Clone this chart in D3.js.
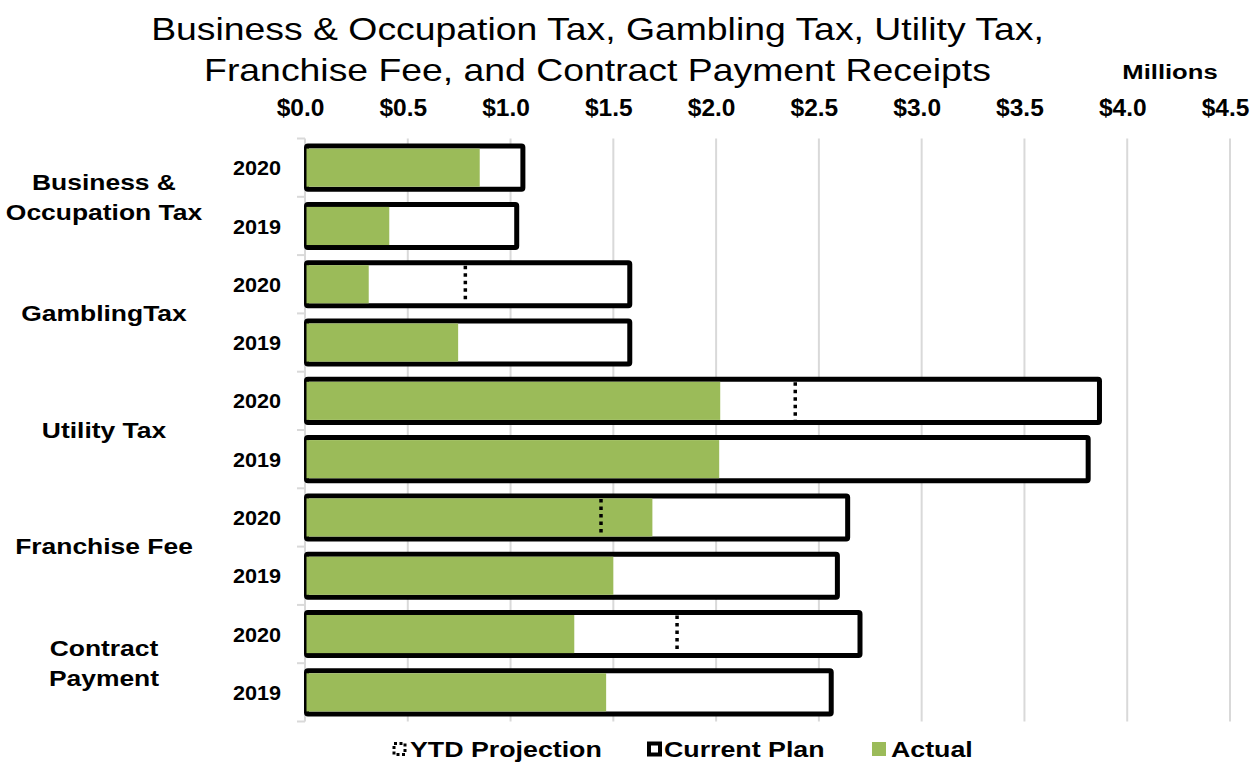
<!DOCTYPE html>
<html>
<head>
<meta charset="utf-8">
<script src="https://cdn.jsdelivr.net/npm/d3@7"></script>
<style>
  body { margin: 0; background: #fff; }
  text { font-family: "Liberation Sans", Arial, sans-serif; fill: #000; }
</style>
</head>
<body>
<div id="chart"></div>
<script>
// categories, top to bottom, each with a 2020 and 2019 row
const categories = [["Business &", "Occupation Tax"], ["GamblingTax"], ["Utility Tax"], ["Franchise Fee"], ["Contract", "Payment"]];
const years = ["2020", "2019"];
// values in millions, per category [2020, 2019]
const plan = [[1.06, 1.03], [1.58, 1.58], [3.865, 3.81], [2.64, 2.59], [2.70, 2.56]];
const actual = [[0.85, 0.41], [0.31, 0.745], [2.02, 2.015], [1.69, 1.50], [1.31, 1.465]];
const ytd = [[null, null], [0.78, null], [2.385, null], [1.44, null], [1.81, null]];
const ticks = [0, 0.5, 1, 1.5, 2, 2.5, 3, 3.5, 4, 4.5];

// flatten into rows
let rows = [];
categories.forEach((c, i) => {
  years.forEach((y, j) => {
    rows.push({id: i + "-" + y, cat: i, year: y, plan: plan[i][j], actual: actual[i][j], ytd: ytd[i][j]});
  });
});

const W = 1257, H = 763;
const svg = d3.select("#chart").append("svg").attr("width", W).attr("height", H);

// text in the original is wider than Liberation Sans, so stretch it horizontally around its x
function stretch(sel, sx) {
  sel.each(function() {
    const x0 = +d3.select(this).attr("x");
    d3.select(this).attr("transform", `translate(${x0},0) scale(${sx},1) translate(${-x0},0)`);
  });
  return sel;
}

const x = d3.scaleLinear().domain([0, 4.5]).range([305, 1230]);
const y = d3.scaleBand().domain(rows.map(d => d.id)).range([138.5, 721.5]).paddingInner(0.26).paddingOuter(0.13);

// title
stretch(svg.append("text").attr("x", 597.5).attr("y", 40).attr("text-anchor", "middle")
  .style("font-size", "30.5px").text("Business & Occupation Tax, Gambling Tax, Utility Tax,"), 1.225);
stretch(svg.append("text").attr("x", 597.5).attr("y", 81).attr("text-anchor", "middle")
  .style("font-size", "30.5px").text("Franchise Fee, and Contract Payment Receipts"), 1.225);
stretch(svg.append("text").attr("x", 1170).attr("y", 79).attr("text-anchor", "middle")
  .style("font-size", "21px").style("font-weight", "bold").text("Millions"), 1.22);

// gridlines
svg.append("g").selectAll("line").data(ticks.slice(1)).join("line")
  .attr("x1", d => x(d)).attr("x2", d => x(d))
  .attr("y1", 138.5).attr("y2", 721.5)
  .attr("stroke", "#d9d9d9").attr("stroke-width", 2);

// top axis labels
const xAxis = svg.append("g").attr("transform", "translate(0,107.5)")
  .call(d3.axisTop(x).tickValues(ticks).tickFormat(d => "$" + d3.format(".1f")(d)).tickSize(0).tickPadding(0));
xAxis.select(".domain").remove();
xAxis.selectAll("text").attr("x", -5).attr("y", 0).attr("dy", "0.36em")
  .style("font-size", "24.5px").style("font-weight", "bold")
  .style("font-family", "'Liberation Sans', Arial, sans-serif");

// left axis line + ticks at row boundaries
svg.append("line").attr("x1", 305).attr("x2", 305).attr("y1", 138.5).attr("y2", 721.5)
  .attr("stroke", "#d9d9d9").attr("stroke-width", 2);
svg.append("g").selectAll("line").data(d3.range(rows.length + 1)).join("line")
  .attr("x1", 297).attr("x2", 305)
  .attr("y1", d => 138.5 + d * (583 / rows.length)).attr("y2", d => 138.5 + d * (583 / rows.length))
  .attr("stroke", "#d9d9d9").attr("stroke-width", 2);

// plan bars (outline)
const bh = y.bandwidth();
svg.append("g").selectAll("rect").data(rows).join("rect")
  .attr("x", x(0) + 1.5).attr("y", d => y(d.id))
  .attr("width", d => x(d.plan) - x(0) - 1.5).attr("height", bh)
  .attr("fill", "#fff").attr("stroke", "#000").attr("stroke-width", 5)
  .attr("rx", 1.5);

// actual bars
svg.append("g").selectAll("rect").data(rows).join("rect")
  .attr("x", x(0) + 1.5).attr("y", d => y(d.id) + 2.5)
  .attr("width", d => x(d.actual) - x(0) - 1.5).attr("height", bh - 5)
  .attr("fill", "#9bbb59");

// ytd projection markers
svg.append("g").selectAll("line").data(rows.filter(d => d.ytd != null)).join("line")
  .attr("x1", d => x(d.ytd)).attr("x2", d => x(d.ytd))
  .attr("y1", d => y(d.id) + 3).attr("y2", d => y(d.id) + bh - 2.5)
  .attr("stroke", "#000").attr("stroke-width", 3.5).attr("stroke-dasharray", "3.5,4");

// year labels
svg.append("g").selectAll("text").data(rows).join("text")
  .attr("x", 281).attr("y", d => y(d.id) + bh / 2).attr("dy", "0.36em")
  .attr("text-anchor", "end").style("font-size", "21px").style("font-weight", "bold")
  .text(d => d.year)
  .call(s => stretch(s, 1.03));

// category labels
const groupH = 583 / categories.length;
categories.forEach((lines, i) => {
  const cy = 138.5 + groupH * (i + 0.5);
  lines.forEach((l, k) => {
    const t = svg.append("text").attr("x", 104)
      .attr("y", cy + (k - (lines.length - 1) / 2) * 30).attr("dy", "0.36em")
      .attr("text-anchor", "middle")
      .style("font-size", "21.5px").style("font-weight", "bold").text(l);
    stretch(t, 1.23);
  });
});

// legend
const lg = svg.append("g").attr("transform", "translate(0,749)");
lg.append("rect").attr("x", 394).attr("y", -5.5).attr("width", 11).attr("height", 11)
  .attr("fill", "none").attr("stroke", "#000").attr("stroke-width", 3).attr("stroke-dasharray", "3,2.5");
stretch(lg.append("text").attr("x", 410).attr("y", 0).attr("dy", "0.36em")
  .style("font-size", "22.5px").style("font-weight", "bold").text("YTD Projection"), 1.19);
lg.append("rect").attr("x", 649).attr("y", -5.5).attr("width", 11).attr("height", 11)
  .attr("fill", "#fff").attr("stroke", "#000").attr("stroke-width", 4);
stretch(lg.append("text").attr("x", 664).attr("y", 0).attr("dy", "0.36em")
  .style("font-size", "22.5px").style("font-weight", "bold").text("Current Plan"), 1.19);
lg.append("rect").attr("x", 872).attr("y", -7).attr("width", 14).attr("height", 14)
  .attr("fill", "#9bbb59");
stretch(lg.append("text").attr("x", 891).attr("y", 0).attr("dy", "0.36em")
  .style("font-size", "22.5px").style("font-weight", "bold").text("Actual"), 1.19);
</script>
</body>
</html>
